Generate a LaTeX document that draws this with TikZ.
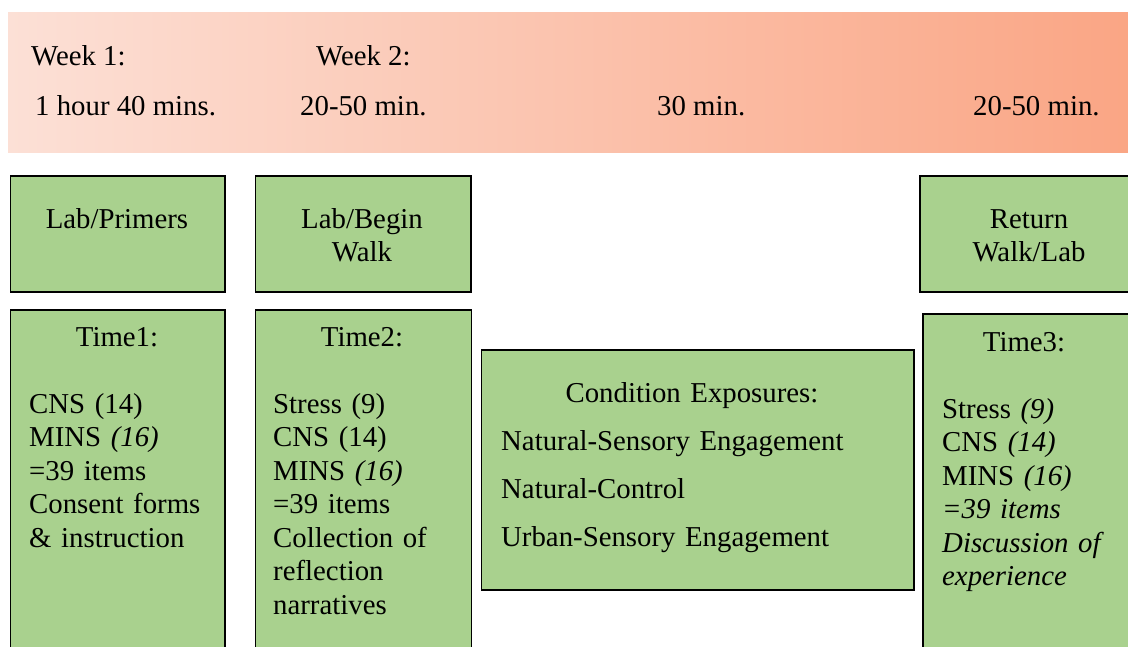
\documentclass[tikz,border=0pt]{standalone}
\usepackage{fontspec}
\setmainfont{Liberation Serif}
\usepackage{tikz}
\definecolor{boxgreen}{HTML}{A9D18E}
\definecolor{bandleft}{HTML}{FCE0D6}
\definecolor{bandright}{HTML}{FAA584}
\newcommand{\plainfont}{\fontsize{28.8}{33.5}\selectfont}
\newcommand{\widefont}{\fontsize{28.8}{48}\selectfont}

\begin{document}
\begin{tikzpicture}[x=1pt, y=-1pt,
        band/.style = {left color=bandleft, right color=bandright, anchor=north west, inner sep=0pt},
        box/.style = {draw, line width=1.6pt, fill=boxgreen, anchor=north west, inner sep=0pt},
        head/.style = {font=\plainfont, anchor=base, inner sep=0pt, text width=210pt, align=center},
        txt/.style = {font=\plainfont, anchor=base west, inner sep=0pt},
        list/.style = {font=\plainfont, anchor=base west, inner sep=0pt, text width=190pt, align=left}]
                \useasboundingbox (0, 0) rectangle (1128, 646);
                \clip (0, 0) rectangle (1128, 646);

                \node[band, minimum width=1130pt, minimum height=140pt] at (8, 12) (weeks) {};
                \node[txt] at (31, 65) (wone) {Week 1:};
                \node[txt] at (35, 115) (done) {1 hour 40 mins.};
                \node[txt] at (316, 65) (wtwo) {Week 2:};
                \node[txt] at (300, 115) (dtwo) {20-50 min.};
                \node[txt] at (657, 115) (dthree) {30 min.};
                \node[txt] at (973, 115) (dfour) {20-50 min.};

                \node[box, minimum width=214.5pt, minimum height=116pt] at (9.5, 175) (prim) {};
                \node[box, minimum width=215.5pt, minimum height=116pt] at (254.5, 175) (begwalk) {};
                \node[box, minimum width=221pt, minimum height=116pt] at (919, 175) (retwalk) {};
                \node[head] at (117, 228) (primtext) {Lab/Primers};
                \node[head] at (362, 228) (begtext) {Lab/Begin\\Walk};
                \node[head] at (1029, 228) (rettext) {Return\\Walk/Lab};

                \node[box, minimum width=214.5pt, minimum height=360pt] at (9.5, 309) (tone) {};
                \node[box, minimum width=216pt, minimum height=360pt] at (254.5, 309) (ttwo) {};
                \node[box, minimum width=432.5pt, minimum height=240pt] at (480.5, 349) (cond) {};
                \node[box, minimum width=212pt, minimum height=360pt] at (922, 313) (tthree) {};

                \node[head] at (117, 346) (tonehead) {Time1:};
                \node[list] at (29, 413) (tonelist) {CNS (14)\\MINS \textit{(16)}\\=39 items\\Consent forms\\\& instruction};

                \node[head] at (362, 346) (ttwohead) {Time2:};
                \node[list] at (273, 413) (ttwolist) {Stress (9)\\CNS (14)\\MINS \textit{(16)}\\=39 items\\Collection of\\reflection\\narratives};

                \node[head, text width=400pt] at (692, 402) (condhead) {Condition Exposures:};
                \node[list, font=\widefont, text width=400pt] at (501, 450) (condlist) {Natural-Sensory Engagement\\Natural-Control\\Urban-Sensory Engagement};

                \node[head] at (1024, 351) (tthreehead) {Time3:};
                \node[list, text width=180pt] at (942, 418) (tthreelist) {Stress \textit{(9)}\\CNS \textit{(14)}\\MINS \textit{(16)}\\\textit{=39 items}\\\textit{Discussion of}\\\textit{experience}};
            \end{tikzpicture}
\end{document}
